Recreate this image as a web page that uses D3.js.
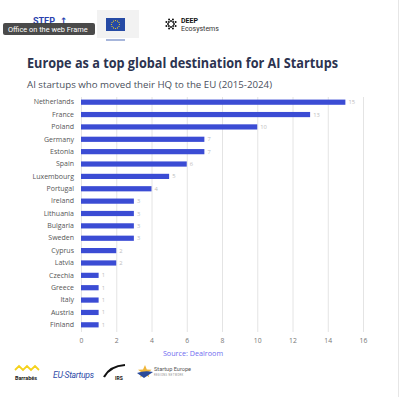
<!DOCTYPE html>
<html>
<head>
<meta charset="utf-8">
<script src="https://cdn.jsdelivr.net/npm/d3@7"></script>
<style>
  body { margin: 0; background: #fff; }
  svg { display: block; }
</style>
</head>
<body>
<svg id="chart"></svg>
<script>
const countries = ["Netherlands", "France", "Poland", "Germany", "Estonia", "Spain", "Luxembourg",
  "Portugal", "Ireland", "Lithuania", "Bulgaria", "Sweden", "Cyprus", "Latvia", "Czechia",
  "Greece", "Italy", "Austria", "Finland"];
const startups = [15, 13, 10, 7, 7, 6, 5, 4, 3, 3, 3, 3, 2, 2, 1, 1, 1, 1, 1];
const xTicks = [0, 2, 4, 6, 8, 10, 12, 14, 16];

const width = 400;
const height = 397;
const svg = d3.select("#chart").attr("width", width).attr("height", height);

svg.append("rect").attr("width", width).attr("height", height).attr("fill", "#fff");
// right page edge
svg.append("line").attr("x1", 398.5).attr("x2", 398.5).attr("y1", 0).attr("y2", height)
    .attr("stroke", "#e6e6e6");

// ==================== header logos =====================
const header = svg.append("g");
header.append("text").attr("x", 33).attr("y", 24).text("STEP")
    .attr("font-family", "Roboto, sans-serif").attr("font-weight", 700)
    .attr("font-size", 9).attr("fill", "#2a3fae");
header.append("text").attr("x", 60).attr("y", 24).text("↑")
    .attr("font-family", "DejaVu Sans").attr("font-weight", 700)
    .attr("font-size", 9).attr("fill", "#2a3fae");
header.append("rect").attr("x", 97).attr("y", 10).attr("width", 42).attr("height", 28).attr("fill", "#f2f2f2");
header.append("rect").attr("x", 106).attr("y", 18).attr("width", 19).attr("height", 13).attr("fill", "#254aa5");
d3.range(12).forEach(i => {
    const a = i / 12 * 2 * Math.PI;
    header.append("circle").attr("cx", 115.5 + 4 * Math.cos(a)).attr("cy", 24.5 + 4 * Math.sin(a))
        .attr("r", 0.6).attr("fill", "#ffd617");
});
header.append("line").attr("x1", 106).attr("x2", 125).attr("y1", 40).attr("y2", 40)
    .attr("stroke", "#254aa5").attr("stroke-width", 0.8);
// tooltip overlay
header.append("rect").attr("x", 3).attr("y", 23).attr("width", 92).attr("height", 12).attr("rx", 2)
    .attr("fill", "#3b3b3b").attr("opacity", 0.92);
header.append("text").attr("x", 8).attr("y", 32).text("Office on the web Frame")
    .attr("font-family", "Roboto, sans-serif").attr("font-size", 7.4).attr("fill", "#fff");
// DEEP Ecosystems
d3.range(16).forEach(i => {
    const a = i / 16 * 2 * Math.PI, r = i % 2 ? 5 : 3;
    header.append("circle").attr("cx", 171 + r * Math.cos(a)).attr("cy", 24 + r * Math.sin(a))
        .attr("r", 1).attr("fill", "#111");
});
header.append("text").attr("x", 181).attr("y", 23).text("DEEP")
    .attr("font-family", "Roboto, sans-serif").attr("font-weight", 700).attr("font-size", 7).attr("fill", "#111");
header.append("text").attr("x", 181).attr("y", 31).text("Ecosystems")
    .attr("font-family", "Roboto, sans-serif").attr("font-size", 7).attr("fill", "#333");

// ==================== titles =====================
svg.append("text").attr("x", 27).attr("y", 68)
    .text("Europe as a top global destination for AI Startups")
    .attr("font-family", "'Open Sans', sans-serif").attr("font-weight", 700)
    .attr("font-size", 13.6).attr("fill", "#2c3350")
    .attr("textLength", 311).attr("lengthAdjust", "spacingAndGlyphs");
svg.append("text").attr("x", 27).attr("y", 88)
    .text("AI startups who moved their HQ to the EU (2015-2024)")
    .attr("font-family", "'Open Sans', sans-serif").attr("font-size", 9.6).attr("fill", "#4a4f5c")
    .attr("textLength", 245).attr("lengthAdjust", "spacingAndGlyphs");

// ==================== chart =====================
const x = d3.scaleLinear().domain([0, 16]).range([81, 363]);
const y = d3.scaleBand().domain(countries).range([96, 331]).paddingInner(0.58).paddingOuter(0.29);

svg.append("g").selectAll("line").data(xTicks).enter().append("line")
    .attr("x1", d => x(d) + 0.5).attr("x2", d => x(d) + 0.5)
    .attr("y1", 97).attr("y2", 332)
    .attr("stroke", "#e4e4e4").attr("stroke-width", 1);

const xAxis = svg.append("g").attr("transform", "translate(0,332)")
    .call(d3.axisBottom(x).tickValues(xTicks).tickSize(0).tickPadding(6));
xAxis.select(".domain").remove();
xAxis.selectAll("text").attr("font-family", "'Open Sans', sans-serif").attr("font-size", 6.8).attr("fill", "#777");

const yAxis = svg.append("g").attr("transform", "translate(74,0)")
    .call(d3.axisLeft(y).tickSize(0).tickPadding(0));
yAxis.select(".domain").remove();
yAxis.selectAll("text").attr("font-family", "'Open Sans', sans-serif").attr("font-size", 7).attr("fill", "#555");

const data = countries.map((c, i) => ({country: c, value: startups[i]}));
svg.append("g").selectAll("rect").data(data).enter().append("rect")
    .attr("x", x(0)).attr("y", d => y(d.country))
    .attr("width", d => x(d.value) - x(0)).attr("height", y.bandwidth())
    .attr("fill", "#3b4cd4");

svg.append("g").selectAll("text").data(data).enter().append("text")
    .attr("x", d => x(d.value) + 3).attr("y", d => y(d.country) + y.bandwidth() / 2)
    .attr("dy", "0.35em").text(d => d.value)
    .attr("font-family", "'Open Sans', sans-serif").attr("font-size", 5.8).attr("fill", "#bdbdbd");

svg.append("text").attr("x", 193).attr("y", 356).attr("text-anchor", "middle")
    .text("Source: Dealroom")
    .attr("font-family", "'Open Sans', sans-serif").attr("font-size", 7.2).attr("fill", "#6f6cf0");

// ==================== footer logos =====================
const footer = svg.append("g");
footer.append("path").attr("d", "M15,370 l4,-4 l4,4 l4,-4 l4,4 l4,-4 l4,4")
    .attr("fill", "none").attr("stroke", "#f5d21c").attr("stroke-width", 1.8);
footer.append("text").attr("x", 26).attr("y", 380).attr("text-anchor", "middle").text("Barrabés")
    .attr("font-family", "Roboto, sans-serif").attr("font-weight", 700).attr("font-size", 5.5).attr("fill", "#222");
footer.append("text").attr("x", 53).attr("y", 378).text("EU-Startups")
    .attr("font-family", "Roboto, sans-serif").attr("font-style", "italic").attr("font-size", 8.6)
    .attr("fill", "#2f4ba8").attr("letter-spacing", -0.3);
footer.append("path").attr("d", "M104,377 q6,-11 21,-12").attr("fill", "none")
    .attr("stroke", "#111").attr("stroke-width", 2.2);
footer.append("text").attr("x", 115).attr("y", 380).text("IRS")
    .attr("font-family", "Roboto, sans-serif").attr("font-weight", 700).attr("font-size", 5).attr("fill", "#111");
footer.append("path").attr("d", "M145,365 l1.8,4.5 l4.8,0.2 l-3.8,3 l1.4,4.6 l-4.2,-2.8 l-5,3 l2,-4.8 l-4,-2.9 l5,-0.2 z")
    .attr("fill", "#f0b63a");
footer.append("path").attr("d", "M137,373 q8,-3 16,-1 l-9,6 z").attr("fill", "#2a4a9a");
footer.append("text").attr("x", 154).attr("y", 371).text("Startup Europe")
    .attr("font-family", "Roboto, sans-serif").attr("font-size", 5.6).attr("fill", "#555");
footer.append("text").attr("x", 154).attr("y", 376).text("REGIONS NETWORK")
    .attr("font-family", "Roboto, sans-serif").attr("font-size", 2.6).attr("fill", "#888").attr("letter-spacing", 0.4);
</script>
</body>
</html>
